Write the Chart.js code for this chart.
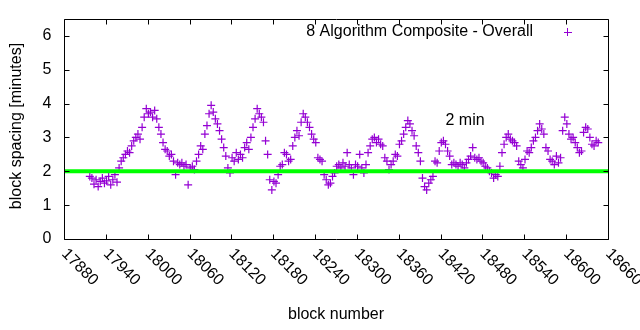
<!DOCTYPE html>
<html>
<head>
<meta charset="utf-8">
<script src="https://cdn.jsdelivr.net/npm/chart.js@4.4.1/dist/chart.umd.min.js"></script>
<style>
  html, body { margin: 0; padding: 0; background: #ffffff; }
  #wrap { width: 640px; height: 330px; position: relative; }
</style>
</head>
<body>
<div id="wrap"><canvas id="c" width="640" height="330"></canvas></div>
<script>
// ---- data ----
const seriesLabel = "8 Algorithm Composite - Overall";
const targetLabel = "2 min";
const targetSpacing = 2;
const blockStart = 17917;   // first block plotted
const blockStep = 3;        // blocks between plotted samples
const spacingMinutes = [
  1.85,1.8,1.62,1.75,1.55,1.7,1.8,1.65,1.72,1.85,1.6,1.75,1.9,1.68,
  2.1,2.3,2.4,2.5,2.6,2.55,
  2.75,2.9,3.0,3.1,2.95,3.3,
  3.6,3.85,3.7,3.75,3.6,3.8,3.55,
  3.3,3.1,
  2.85,2.65,2.6,2.45,2.5,2.3,
  1.9,2.25,2.2,2.25,2.15,2.2,1.6,2.1,2.15,2.05,
  2.3,2.5,2.75,2.65,
  3.1,3.35,
  3.7,3.95,3.75,
  3.55,3.4,3.2,
  2.95,2.7,
  2.45,2.1,1.95,
  2.4,2.3,2.55,2.35,2.5,2.4,2.7,2.85,2.65,
  3.0,3.3,3.55,
  3.85,3.7,3.6,3.45,
  2.9,2.5,1.75,1.45,1.7,1.65,
  1.9,2.15,2.2,2.55,2.5,2.3,2.35,2.75,
  3.0,3.2,3.05,3.45,3.7,3.6,3.45,3.3,3.1,2.95,2.85,
  2.4,2.35,2.3,1.9,1.75,1.6,1.65,1.85,1.95,
  2.15,2.2,2.1,2.25,2.15,2.55,2.2,2.1,1.9,2.2,2.15,2.5,2.1,1.95,2.2,2.55,
  2.75,2.95,3.0,2.85,2.95,2.8,2.75,
  2.4,2.3,2.05,2.2,2.3,2.5,2.45,
  2.8,2.9,3.1,3.3,3.5,3.4,3.2,3.05,
  2.75,2.55,2.3,
  1.8,1.55,1.45,1.65,1.75,1.85,
  2.3,2.25,2.6,2.85,2.9,2.8,2.6,2.45,2.2,
  2.25,2.2,2.15,2.25,2.2,2.1,2.25,2.35,2.45,2.7,2.4,2.35,2.4,2.3,2.25,2.15,2.1,
  2.0,1.95,1.8,1.9,1.85,2.15,
  2.55,2.8,3.0,3.1,2.95,2.9,2.85,2.75,
  2.3,2.2,2.1,2.35,
  2.6,2.55,2.7,2.9,3.0,
  3.2,3.4,3.25,3.1,
  2.7,2.6,2.35,2.3,2.2,2.45,2.25,2.4,
  3.2,3.6,3.4,
  3.1,2.95,3.0,2.85,
  2.7,2.55,2.6,
  3.15,3.3,3.25,
  3.0,2.8,2.75,2.9,2.85
];
const xTicks = [17880,17940,18000,18060,18120,18180,18240,18300,18360,18420,18480,18540,18600,18660];
const yTicks = [0,1,2,3,4,5,6];
const xRange = [17880, 18660];
const yRange = [0, 6.5];
const labelPos = {block: 18455, minutes: 3.5};

// ---- build ----
const points = spacingMinutes.map((v, i) => ({x: blockStart + i * blockStep, y: v}));
const targetLine = [{x: xRange[0], y: targetSpacing}, {x: xRange[1], y: targetSpacing}];

const PURPLE = '#9400d3';
const FONT = '16px "Liberation Sans", Arial, sans-serif';

const framePlugin = {
  id: 'frame',
  afterDraw(chart) {
    const ctx = chart.ctx;
    const a = chart.chartArea;
    const xs = chart.scales.x, ys = chart.scales.y;
    const L = Math.round(a.left) + 0.5, R = Math.round(a.right) + 0.5;
    const T = Math.round(a.top) + 0.5, B = Math.round(a.bottom) + 0.5;
    const tl = 5;
    ctx.save();
    ctx.strokeStyle = '#000';
    ctx.lineWidth = 1;
    ctx.beginPath();
    ctx.rect(L, T, R - L, B - T);
    ctx.stroke();
    ctx.beginPath();
    yTicks.forEach(t => {
      const y = Math.round(ys.getPixelForValue(t)) + 0.5;
      ctx.moveTo(L, y); ctx.lineTo(L + tl, y);
      ctx.moveTo(R, y); ctx.lineTo(R - tl, y);
    });
    xTicks.forEach(t => {
      const x = Math.round(xs.getPixelForValue(t)) + 0.5;
      ctx.moveTo(x, B); ctx.lineTo(x, B - tl);
      ctx.moveTo(x, T); ctx.lineTo(x, T + tl);
    });
    ctx.stroke();

    ctx.fillStyle = '#000';
    ctx.font = FONT;
    // y tick labels
    ctx.textAlign = 'right';
    ctx.textBaseline = 'middle';
    yTicks.forEach(t => {
      ctx.fillText(String(t), L - 13, ys.getPixelForValue(t));
    });
    // x tick labels rotated
    xTicks.forEach(t => {
      const x = xs.getPixelForValue(t);
      ctx.save();
      ctx.translate(x, B + 12);
      ctx.rotate(Math.PI / 4);
      ctx.textAlign = 'left';
      ctx.textBaseline = 'middle';
      ctx.fillText(String(t), 0, 0);
      ctx.restore();
    });
    // axis titles
    ctx.textAlign = 'center';
    ctx.textBaseline = 'middle';
    ctx.fillText('block number', (a.left + a.right) / 2, 315);
    ctx.save();
    ctx.translate(17, 126);
    ctx.rotate(-Math.PI / 2);
    ctx.fillText('block spacing [minutes]', 0, 0);
    ctx.restore();
    // legend
    ctx.textAlign = 'right';
    ctx.fillText(seriesLabel, 533, 32);
    ctx.strokeStyle = PURPLE;
    ctx.beginPath();
    ctx.moveTo(564, 32.5); ctx.lineTo(572, 32.5);
    ctx.moveTo(567.5, 28); ctx.lineTo(567.5, 36);
    ctx.stroke();
    // "2 min" label
    ctx.fillStyle = '#000';
    ctx.textAlign = 'center';
    ctx.fillText(targetLabel, xs.getPixelForValue(labelPos.block), ys.getPixelForValue(labelPos.minutes));
    ctx.restore();
  }
};

new Chart(document.getElementById('c'), {
  type: 'scatter',
  data: {
    datasets: [
      {
        label: targetLabel,
        type: 'line',
        data: targetLine,
        borderColor: '#00ff00',
        borderWidth: 4,
        pointRadius: 0,
        fill: false,
        order: 0
      },
      {
        label: seriesLabel,
        data: points,
        pointStyle: 'cross',
        pointRadius: 4,
        pointBorderWidth: 1.2,
        borderColor: PURPLE,
        backgroundColor: PURPLE,
        pointBorderColor: PURPLE,
        order: 1
      }
    ]
  },
  options: {
    responsive: false,
    animation: false,
    devicePixelRatio: 1,
    layout: { padding: { left: 64, right: 32, top: 19, bottom: 91 } },
    plugins: { legend: { display: false }, tooltip: { enabled: false } },
    scales: {
      x: { type: 'linear', display: false, min: xRange[0], max: xRange[1] },
      y: { type: 'linear', display: false, min: yRange[0], max: yRange[1] }
    }
  },
  plugins: [framePlugin]
});
</script>
</body>
</html>
